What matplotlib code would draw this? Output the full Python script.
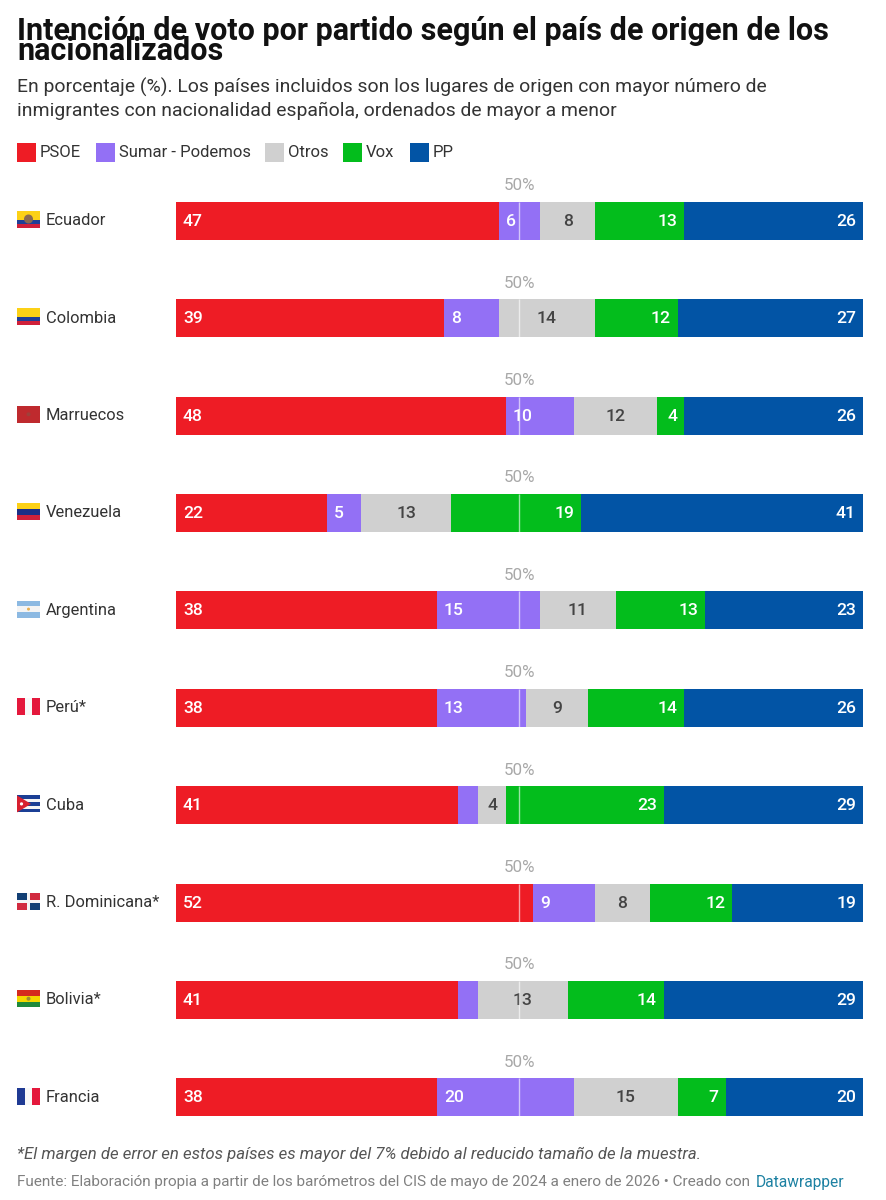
import matplotlib
matplotlib.use("Agg")
import matplotlib.pyplot as plt
from matplotlib.patches import Rectangle, Circle, Polygon

W, H = 887, 1200
plt.rcParams['font.family'] = ['Roboto', 'DejaVu Sans']

countries = ["Ecuador", "Colombia", "Marruecos", "Venezuela", "Argentina", "Perú*", "Cuba",
             "R. Dominicana*", "Bolivia*", "Francia"]
parties = ["PSOE", "Sumar - Podemos", "Otros", "Vox", "PP"]
psoe = [47, 39, 48, 22, 38, 38, 41, 52, 41, 38]
sumar = [6, 8, 10, 5, 15, 13, 3, 9, 3, 20]
otros = [8, 14, 12, 13, 11, 9, 4, 8, 13, 15]
vox = [13, 12, 4, 19, 13, 14, 23, 12, 14, 7]
pp = [26, 27, 26, 41, 23, 26, 29, 19, 29, 20]
series = [psoe, sumar, otros, vox, pp]
colors = ["#ee1c25", "#9370f5", "#d0d0d0", "#03bd1c", "#0254a5"]
txt_colors = ["white", "white", "#444444", "white", "white"]
aligns = ["left", "left", "center", "right", "right"]
hide_below = 3.5

title = "Intención de voto por partido según el país de origen de los\nnacionalizados"
subtitle = ("En porcentaje (%). Los países incluidos son los lugares de origen con mayor número de\n"
            "inmigrantes con nacionalidad española, ordenados de mayor a menor")
note = "*El margen de error en estos países es mayor del 7% debido al reducido tamaño de la muestra."
source = "Fuente: Elaboración propia a partir de los barómetros del CIS de mayo de 2024 a enero de 2026 • Creado con"
credit = "Datawrapper"

fig = plt.figure(figsize=(W / 100, H / 100), dpi=100, facecolor="white")

def fx(px): return px / W
def fy(py): return 1 - py / H

# page overlay in pixel coordinates for titles, legend and flags
page = fig.add_axes([0, 0, 1, 1], zorder=0)
page.set_xlim(0, W); page.set_ylim(H, 0); page.axis("off")

# bars
row_h = 97.4
ax_top = 220.8 - row_h / 2
ax_h = row_h * len(countries)
ax = fig.add_axes([fx(176), fy(ax_top + ax_h), (863 - 176) / W, ax_h / H], zorder=1)
ax.set_xlim(0, 100); ax.set_ylim(len(countries) - 0.5, -0.5); ax.axis("off")
px_per_unit = 6.87
pad = 7 / px_per_unit
for i in range(len(countries)):
    left = 0
    for s, vals in enumerate(series):
        v = vals[i]
        ax.barh(i, v, left=left, height=38 / row_h, color=colors[s], linewidth=0)
        if v > hide_below:
            x = {"left": left + pad, "center": left + v / 2, "right": left + v - pad}[aligns[s]]
            ax.text(x, i + 0.005, str(v), ha=aligns[s], va="center", color=txt_colors[s],
                    fontsize=12.6, fontweight="medium")
        left += v
    ax.plot([50, 50], [i - 19 / row_h, i + 19 / row_h], color="white", lw=1, alpha=0.6, zorder=3,
            solid_capstyle="butt")
    ax.text(50, i - 35 / row_h, "50%", ha="center", va="center", color="#a8a8a8", fontsize=12.2)
    ax.text(-130 / px_per_unit, i, countries[i], ha="left", va="center", color="#333333", fontsize=11.9)

# title block
page.text(17, 30.5, title.split("\n")[0], fontsize=22, fontweight="bold", color="#111111", va="center", ha="left")
page.text(17, 51, title.split("\n")[1], fontsize=22, fontweight="bold", color="#111111", va="center", ha="left")
for line, y in zip(subtitle.split("\n"), [87.5, 110.5]):
    page.text(17, y, line, fontsize=13.95, color="#333333", va="center", ha="left")

# legend
leg_x = [17, 96, 265, 343, 410]
for x, name, c in zip(leg_x, parties, colors):
    page.add_patch(Rectangle((x, 143), 19, 19, color=c, lw=0))
    page.text(x + 23, 152.5, name, fontsize=12, color="#333333", va="center", ha="left")

# flags
def stripes_h(y0, cols, weights):
    total = sum(weights); y = y0
    for c, w in zip(cols, weights):
        h = 17 * w / total
        page.add_patch(Rectangle((17, y), 23, h, color=c, lw=0)); y += h

def stripes_v(y0, cols):
    w = 23 / len(cols)
    for k, c in enumerate(cols):
        page.add_patch(Rectangle((17 + k * w, y0), w, 17, color=c, lw=0))

ytop = [211 + row_h * i for i in range(len(countries))]
stripes_h(ytop[0], ["#fcd116", "#1f3f97", "#d0203a"], [2, 1, 1])
page.add_patch(Circle((28.5, ytop[0] + 8), 4.5, color="#8a6a50", lw=0))
stripes_h(ytop[1], ["#fcd116", "#1f3f97", "#d0203a"], [2, 1, 1])
page.add_patch(Rectangle((17, ytop[2]), 23, 17, color="#bf2a2e", lw=0))
page.add_patch(Circle((28.5, ytop[2] + 8.5), 2, color="#a0403a", lw=0))
stripes_h(ytop[3], ["#fcd116", "#1c2f86", "#d0203a"], [1, 1, 1])
stripes_h(ytop[4], ["#8cb9e2", "#f4f4f4", "#8cb9e2"], [1, 1, 1])
page.add_patch(Circle((28.5, ytop[4] + 8.5), 1.5, color="#e8b050", lw=0))
stripes_v(ytop[5], ["#e4183c", "#f8f8f8", "#e4183c"])
stripes_h(ytop[6], ["#1b3f95", "#f4f4f4", "#1b3f95", "#f4f4f4", "#1b3f95"], [1, 1, 1, 1, 1])
page.add_patch(Polygon([(17, ytop[6]), (31, ytop[6] + 8.5), (17, ytop[6] + 17)], color="#d8202f", lw=0))
page.add_patch(Circle((21.5, ytop[6] + 8.5), 1.6, color="white", lw=0))
y = ytop[7]
page.add_patch(Rectangle((17, y), 23, 17, color="#f4f4f4", lw=0))
for dx, dy, c in [(0, 0, "#123f74"), (13, 0, "#d12a3f"), (0, 10, "#d12a3f"), (13, 10, "#123f74")]:
    page.add_patch(Rectangle((17 + dx, y + dy), 10, 7, color=c, lw=0))
stripes_h(ytop[8], ["#d52b1e", "#f5d800", "#1f8a3b"], [1, 1, 1])
page.add_patch(Circle((28.5, ytop[8] + 8.5), 2, color="#a09030", lw=0))
stripes_v(ytop[9], ["#1f3a93", "#f8f8f8", "#e4183c"])

# footer
page.text(17, 1154, note, fontsize=12.05, fontstyle="italic", color="#555555", va="center", ha="left")
page.text(17, 1182, source, fontsize=10.95, color="#808080", va="center", ha="left")
page.text(756, 1182, credit, fontsize=11.2, color="#1d81a2", va="center", ha="left")

fig.savefig("out.png", dpi=100)
